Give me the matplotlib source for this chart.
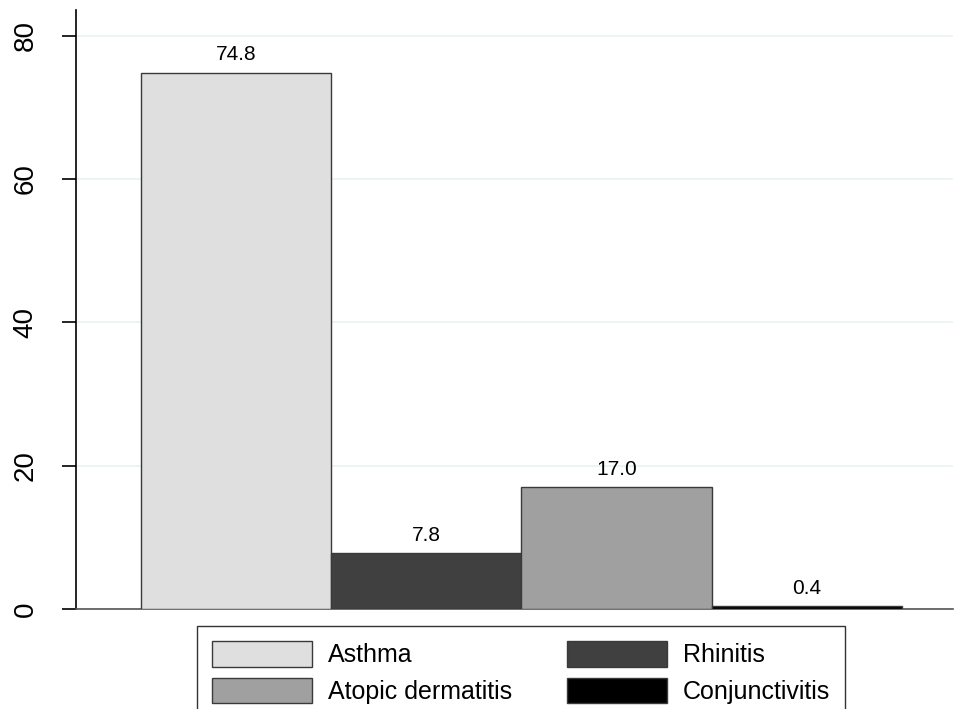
import matplotlib
matplotlib.use("Agg")
import matplotlib.pyplot as plt
from matplotlib.patches import Patch

plt.rcParams["font.family"] = ["Liberation Sans", "DejaVu Sans"]

labels = ["Asthma", "Rhinitis", "Atopic dermatitis", "Conjunctivitis"]
values = [74.8, 7.8, 17.0, 0.4]
colors = ["#DFDFDF", "#404040", "#A0A0A0", "#000000"]
yticks = [0, 20, 40, 60, 80]

fig = plt.figure(figsize=(9.55, 7.09), dpi=100)
ax = fig.add_axes([0.0796, 0.141, 0.9184, 0.845])

x = list(range(len(values)))
ax.bar(x, values, width=1.0, color=colors, edgecolor="#3a3a3a", linewidth=1.0, zorder=3)
for xi, v in zip(x, values):
    ax.text(xi, v + 1.2, f"{v:.1f}", ha="center", va="bottom", fontsize=15, zorder=4)

ax.set_xlim(-0.842, 3.77)
ax.set_ylim(0, 83.6)
ax.set_yticks(yticks)
ax.set_yticklabels([str(t) for t in yticks], rotation=90, va="center", fontsize=20)
ax.set_xticks([])
ax.tick_params(axis="y", length=10, width=1.2, pad=17)
ax.grid(axis="y", color="#EAF2F3", linewidth=1.2, zorder=0)
for s in ["top", "right"]:
    ax.spines[s].set_visible(False)
ax.spines["left"].set_linewidth(1.2)
ax.spines["bottom"].set_color("#555555")
ax.spines["bottom"].set_linewidth(1.2)

handles = [Patch(facecolor=c, edgecolor="#3a3a3a", linewidth=1.0) for c in colors]
# two columns: Asthma/Atopic dermatitis, Rhinitis/Conjunctivitis
order = [0, 2, 1, 3]
leg = fig.legend([handles[i] for i in order], [labels[i] for i in order],
                 ncol=2, loc="upper center", bbox_to_anchor=(0.5455, 0.117),
                 borderaxespad=0.0,
                 fontsize=18, frameon=True, fancybox=False, edgecolor="#000000",
                 handlelength=4.0, handleheight=1.2, handletextpad=0.64,
                 columnspacing=2.2, borderpad=0.6, labelspacing=0.42)
leg.get_frame().set_linewidth(1.0)

fig.savefig("out.png", dpi=100)
